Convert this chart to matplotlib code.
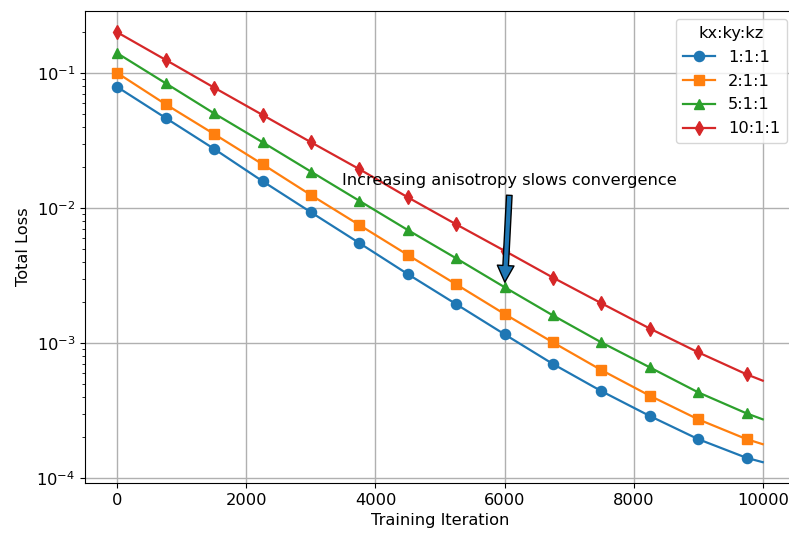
import numpy as np
import matplotlib
matplotlib.use("Agg")
import matplotlib.pyplot as plt

iterations = [0, 750, 1500, 2250, 3000, 3750, 4500, 5250, 6000, 6750, 7500, 8250, 9000, 9750, 10000]

loss_1_1_1 = [0.0787, 0.0464, 0.0274, 0.0158, 0.0093, 0.0055, 0.00324, 0.00194, 0.00116,
              0.000699, 0.000440, 0.000288, 0.000194, 0.000141, 0.000131]
loss_2_1_1 = [0.100, 0.0586, 0.0353, 0.0211, 0.01247, 0.00748, 0.00449, 0.00272, 0.00164,
              0.00101, 0.000630, 0.000407, 0.000272, 0.000194, 0.000178]
loss_5_1_1 = [0.140, 0.0839, 0.0502, 0.0307, 0.0186, 0.0113, 0.00687, 0.00424, 0.00259,
              0.00160, 0.00101, 0.000660, 0.000431, 0.000301, 0.000272]
loss_10_1_1 = [0.200, 0.125, 0.0779, 0.0489, 0.0307, 0.0194, 0.0120, 0.00757, 0.00482,
               0.00305, 0.00197, 0.00128, 0.000853, 0.000586, 0.000526]

labels = ["1:1:1", "2:1:1", "5:1:1", "10:1:1"]
series = [loss_1_1_1, loss_2_1_1, loss_5_1_1, loss_10_1_1]
markers = ["o", "s", "^", "d"]
colors = ["#1f77b4", "#ff7f0e", "#2ca02c", "#d62728"]

fs = 11.7

fig = plt.figure(figsize=(7.89, 5.35), dpi=100)
ax = fig.add_axes([85 / 789, (535 - 483) / 535, (795 - 85) / 789, (483 - 11) / 535])

n_mark = len(iterations) - 1
for lab, vals, m, c in zip(labels, series, markers, colors):
    ax.plot(iterations, vals, marker=m, color=c, label=lab,
            markevery=list(range(n_mark)), markersize=7.3, linewidth=1.6)

ax.set_yscale("log")
ax.set_xlim(-500, 10500)
ax.set_ylim(10 ** -4.037, 10 ** -0.541)
ax.set_xlabel("Training Iteration", fontsize=fs)
ax.set_ylabel("Total Loss", fontsize=fs)
ax.tick_params(labelsize=fs)
ax.grid(True, which="major", color="#b0b0b0", linewidth=1.0)

ax.annotate("Increasing anisotropy slows convergence",
            xy=(6000, loss_5_1_1[8]), xytext=(6080, 0.0161),
            ha="center", va="center", fontsize=fs,
            arrowprops=dict(facecolor=colors[0], shrink=0.05))

ax.legend(title="kx:ky:kz", loc="upper right", fontsize=fs, title_fontsize=fs,
          labelspacing=0.55)

fig.savefig("out.png", dpi=100)
